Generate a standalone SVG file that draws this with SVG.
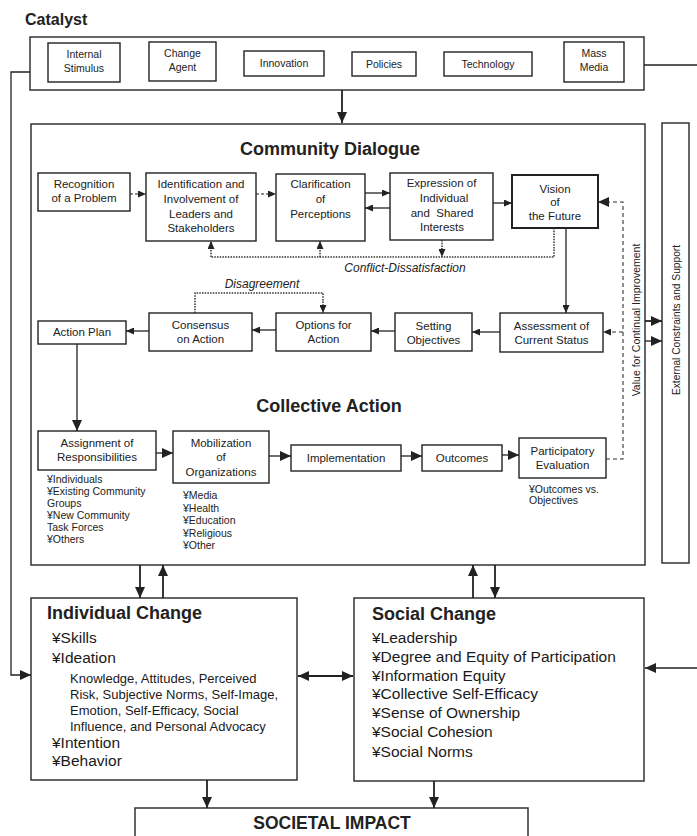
<svg xmlns="http://www.w3.org/2000/svg" width="697" height="836" viewBox="0 0 697 836">
<style>
.bx{fill:#fff;stroke:#222;stroke-width:1.4}
.big{fill:#fff;stroke:#333;stroke-width:1.5}
.t{font-family:"Liberation Sans",Arial,sans-serif;font-size:11.5px;fill:#222;text-anchor:middle}
.ts{font-family:"Liberation Sans",Arial,sans-serif;font-size:10.5px;fill:#222}
.tc{font-family:"Liberation Sans",Arial,sans-serif;font-size:10.5px;fill:#222;text-anchor:middle}
.h{font-family:"Liberation Sans",Arial,sans-serif;font-size:18px;font-weight:bold;fill:#222}
.it{font-family:"Liberation Sans",Arial,sans-serif;font-size:15.5px;fill:#1a1a1a}
.sub{font-family:"Liberation Sans",Arial,sans-serif;font-size:13px;fill:#1a1a1a}
.lab{font-family:"Liberation Sans",Arial,sans-serif;font-size:12px;font-style:italic;fill:#222;text-anchor:middle}
.ln{fill:none;stroke:#222;stroke-width:1.3}
.lnb{fill:none;stroke:#222;stroke-width:1.8}
.dash{fill:none;stroke:#222;stroke-width:1.2;stroke-dasharray:3 2}
.dot{fill:none;stroke:#333;stroke-width:1.5;stroke-dasharray:1.5 1.2}
.vd{fill:none;stroke:#333;stroke-width:1.1;stroke-dasharray:4 3}
</style>
<defs>
<marker id="a" markerUnits="userSpaceOnUse" markerWidth="8" markerHeight="7" refX="8" refY="3.5" orient="auto"><path d="M0,0 L8,3.5 L0,7 z" fill="#222"/></marker>
<marker id="as" markerUnits="userSpaceOnUse" markerWidth="8" markerHeight="7" refX="0" refY="3.5" orient="auto"><path d="M8,0 L0,3.5 L8,7 z" fill="#222"/></marker>
<marker id="ab" markerUnits="userSpaceOnUse" markerWidth="11" markerHeight="10" refX="11" refY="5" orient="auto"><path d="M0,0 L11,5 L0,10 z" fill="#222"/></marker>
<marker id="abs" markerUnits="userSpaceOnUse" markerWidth="11" markerHeight="10" refX="0" refY="5" orient="auto"><path d="M11,0 L0,5 L11,10 z" fill="#222"/></marker>
</defs>
<rect width="697" height="836" fill="#fff"/>

<g id="catalyst">
<text x="25" y="25" class="h" style="font-size:16px">Catalyst</text>
<rect x="30" y="37" width="614" height="53" class="big"/>
<g id="internal-stimulus"><rect x="48" y="43" width="72" height="39" class="bx"/><text x="84" y="58" class="tc">Internal</text><text x="84" y="72" class="tc">Stimulus</text></g>
<g id="change-agent"><rect x="149" y="42" width="67" height="39" class="bx"/><text x="182.5" y="57" class="tc">Change</text><text x="182.5" y="71" class="tc">Agent</text></g>
<g id="innovation"><rect x="244" y="51" width="80" height="25" class="bx"/><text x="284" y="67" class="tc">Innovation</text></g>
<g id="policies"><rect x="352" y="52" width="64" height="24" class="bx"/><text x="384" y="68" class="tc">Policies</text></g>
<g id="technology"><rect x="444" y="52" width="88" height="24" class="bx"/><text x="488" y="68" class="tc">Technology</text></g>
<g id="mass-media"><rect x="564" y="42" width="60" height="40" class="bx"/><text x="594" y="57" class="tc">Mass</text><text x="594" y="71" class="tc">Media</text></g>
</g>

<g id="community">
<rect x="31" y="124" width="614" height="441" class="big"/>
<text x="330" y="155" class="h" text-anchor="middle">Community Dialogue</text>
<text x="329" y="412" class="h" text-anchor="middle">Collective Action</text>
</g>

<g id="external">
<rect x="662" y="123" width="27" height="440" class="big"/>
<text transform="translate(680,320) rotate(-90)" class="tc" style="font-size:10.2px">External Constraints and Support</text>
</g>

<g id="recognition"><rect x="38" y="173" width="92" height="38" class="bx"/><text x="84" y="188" class="t">Recognition</text><text x="84" y="202" class="t">of a Problem</text></g>
<g id="identification"><rect x="146" y="173" width="110" height="68" class="bx"/><text x="201" y="188" class="t">Identification and</text><text x="201" y="203" class="t">Involvement of</text><text x="201" y="218" class="t">Leaders and</text><text x="201" y="232" class="t">Stakeholders</text></g>
<g id="clarification"><rect x="276" y="174" width="89" height="67" class="bx"/><text x="320.5" y="188" class="t">Clarification</text><text x="320.5" y="203" class="t">of</text><text x="320.5" y="218" class="t">Perceptions</text></g>
<g id="expression"><rect x="390" y="173" width="103" height="67" class="bx"/><text x="441.5" y="187" class="t">Expression of</text><text x="444" y="202" class="t">Individual</text><text x="442" y="217" class="t" xml:space="preserve">and  Shared</text><text x="442" y="231" class="t">Interests</text></g>
<g id="vision"><rect x="512" y="175" width="86" height="53" fill="#fff" stroke="#222" stroke-width="2"/><text x="555" y="193" class="t">Vision</text><text x="555" y="206" class="t">of</text><text x="555" y="220" class="t">the Future</text></g>

<g id="assessment"><rect x="500" y="313" width="103" height="39" class="bx"/><text x="551.5" y="330" class="t">Assessment of</text><text x="551.5" y="344" class="t">Current Status</text></g>
<g id="setting"><rect x="395" y="313" width="77" height="38" class="bx"/><text x="433.5" y="330" class="t">Setting</text><text x="433.5" y="344" class="t">Objectives</text></g>
<g id="options"><rect x="276" y="313" width="95" height="38" class="bx"/><text x="323.5" y="329" class="t">Options for</text><text x="323.5" y="343" class="t">Action</text></g>
<g id="consensus"><rect x="149" y="313" width="103" height="38" class="bx"/><text x="200.5" y="329" class="t">Consensus</text><text x="200.5" y="343" class="t">on Action</text></g>
<g id="action-plan"><rect x="38" y="321" width="88" height="23" class="bx"/><text x="82" y="336" class="t">Action Plan</text></g>

<g id="assignment"><rect x="38" y="431" width="118" height="39" class="bx"/><text x="97" y="447" class="t">Assignment of</text><text x="97" y="461" class="t">Responsibilities</text>
<text x="47" y="483" class="ts">¥Individuals</text><text x="47" y="495" class="ts">¥Existing Community</text><text x="47" y="507" class="ts">Groups</text><text x="47" y="519" class="ts">¥New Community</text><text x="47" y="531" class="ts">Task Forces</text><text x="47" y="543" class="ts">¥Others</text></g>
<g id="mobilization"><rect x="173" y="431" width="96" height="52" class="bx"/><text x="221" y="447" class="t">Mobilization</text><text x="221" y="461" class="t">of</text><text x="221" y="476" class="t">Organizations</text>
<text x="183" y="499" class="ts">¥Media</text><text x="183" y="512" class="ts">¥Health</text><text x="183" y="524" class="ts">¥Education</text><text x="183" y="537" class="ts">¥Religious</text><text x="183" y="549" class="ts">¥Other</text></g>
<g id="implementation"><rect x="291" y="445" width="110" height="26" class="bx"/><text x="346" y="462" class="t">Implementation</text></g>
<g id="outcomes"><rect x="422" y="445" width="80" height="26" class="bx"/><text x="462" y="462" class="t">Outcomes</text></g>
<g id="participatory"><rect x="519" y="438" width="87" height="40" class="bx"/><text x="562.5" y="455" class="t">Participatory</text><text x="562.5" y="469" class="t">Evaluation</text>
<text x="529" y="493" class="ts">¥Outcomes vs.</text><text x="529" y="504" class="ts">Objectives</text></g>

<g id="individual-change">
<rect x="31" y="598" width="266" height="182" class="big"/>
<text x="47" y="619" class="h">Individual Change</text>
<text x="52" y="643" class="it">¥Skills</text>
<text x="52" y="663" class="it">¥Ideation</text>
<text x="70" y="683" class="sub">Knowledge, Attitudes, Perceived</text>
<text x="70" y="699" class="sub">Risk, Subjective Norms, Self-Image,</text>
<text x="70" y="715" class="sub">Emotion, Self-Efficacy, Social</text>
<text x="70" y="731" class="sub">Influence, and Personal Advocacy</text>
<text x="52" y="748" class="it">¥Intention</text>
<text x="52" y="766" class="it">¥Behavior</text>
</g>
<g id="social-change">
<rect x="354" y="598" width="290" height="183" class="big"/>
<text x="372" y="620" class="h">Social Change</text>
<text x="372" y="643" class="it">¥Leadership</text>
<text x="372" y="662" class="it">¥Degree and Equity of Participation</text>
<text x="372" y="681" class="it">¥Information Equity</text>
<text x="372" y="699" class="it">¥Collective Self-Efficacy</text>
<text x="372" y="718" class="it">¥Sense of Ownership</text>
<text x="372" y="737" class="it">¥Social Cohesion</text>
<text x="372" y="757" class="it">¥Social Norms</text>
</g>
<g id="societal-impact">
<rect x="135" y="808" width="393" height="40" class="big"/>
<text x="332" y="829" class="h" text-anchor="middle" style="font-size:17.5px">SOCIETAL IMPACT</text>
</g>

<g id="connectors">
<path d="M30,72 H11 V675 H31" class="ln" marker-end="url(#ab)"/>
<path d="M644,65 H697" class="ln"/>
<path d="M697,668 H645" class="ln" marker-end="url(#ab)"/>
<path d="M342,90 V123" class="lnb" marker-end="url(#ab)"/>

<path d="M130,194 H146" class="dash" marker-end="url(#a)"/>
<path d="M256,194 H276" class="dash" marker-end="url(#a)"/>
<path d="M365,193 H390" class="ln" marker-end="url(#a)"/>
<path d="M390,208 H365" class="ln" marker-end="url(#a)"/>
<path d="M493,203 H512" class="ln" marker-end="url(#a)"/>

<path d="M554,228 V257 H211" class="dot"/>
<path d="M211,257 V241" class="dot" marker-end="url(#a)"/>
<path d="M320,257 V241" class="dot" marker-end="url(#a)"/>
<path d="M442,240 V257" class="dot" marker-end="url(#a)"/>
<text x="405" y="272" class="lab">Conflict-Dissatisfaction</text>

<path d="M566,228 V313" class="ln" marker-end="url(#a)"/>
<path d="M500,332 H472" class="ln" marker-end="url(#a)"/>
<path d="M395,331 H371" class="ln" marker-end="url(#a)"/>
<path d="M276,330 H252" class="ln" marker-end="url(#a)"/>
<path d="M149,331 H126" class="ln" marker-end="url(#a)"/>

<path d="M195,313 V293 H323 V313" class="dot" marker-end="url(#a)"/>
<text x="262" y="288" class="lab">Disagreement</text>

<path d="M77,344 V431" class="ln" marker-end="url(#ab)"/>
<path d="M156,453 H173" class="ln" marker-end="url(#ab)"/>
<path d="M269,456 H291" class="ln" marker-end="url(#ab)"/>
<path d="M401,456 H422" class="ln" marker-end="url(#ab)"/>
<path d="M502,455 H519" class="ln" marker-end="url(#ab)"/>

<path d="M606,459 H623 V202 H598" class="vd" marker-end="url(#ab)"/>
<path d="M623,332 H603" class="vd" marker-end="url(#a)"/>
<text transform="translate(640,320) rotate(-90)" class="tc">Value for Continual Improvement</text>

<path d="M645,321 H662" class="lnb" marker-end="url(#ab)"/>
<path d="M662,341 H645" class="lnb" marker-start="url(#abs)" style="stroke-width:1.3"/>

<path d="M140,565 V598" class="lnb" marker-end="url(#ab)"/>
<path d="M163,598 V565" class="lnb" marker-end="url(#ab)"/>
<path d="M473,598 V565" class="lnb" marker-end="url(#ab)"/>
<path d="M495,565 V598" class="lnb" marker-end="url(#ab)"/>
<path d="M298,676 H353" class="lnb" marker-start="url(#abs)" marker-end="url(#ab)"/>
<path d="M207,780 V808" class="lnb" marker-end="url(#ab)"/>
<path d="M434,781 V808" class="lnb" marker-end="url(#ab)"/>
</g>
</svg>
